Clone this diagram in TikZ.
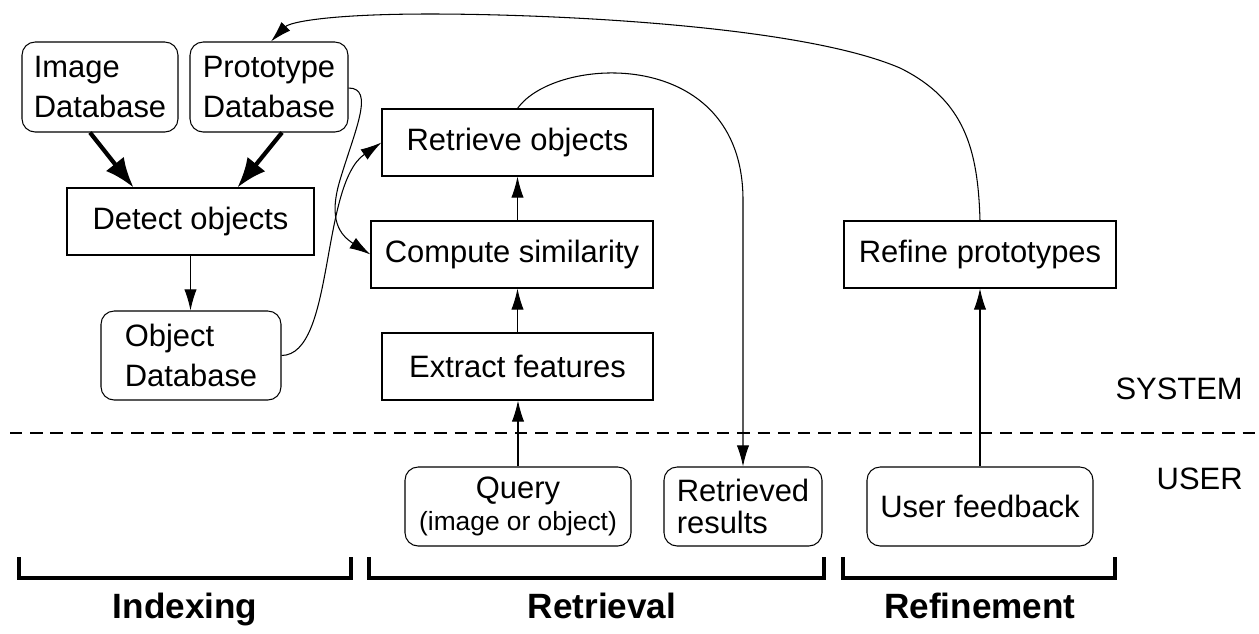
\documentclass[tikz,border=0pt]{standalone}
\usepackage{fontspec}
\setmainfont{Liberation Sans}
\usetikzlibrary{arrows.meta,calc}
\newlength\px \setlength\px{0.02cm}
\begin{document}
\begin{tikzpicture}[x=0.02cm,y=-0.02cm,
  every node/.style={font=\fontsize{17.6}{22.8}\selectfont, inner sep=0pt},
  box/.style={draw, line width=0.6pt, align=center},
  rbox/.style={box, rounded corners=7.5pt, align=left},
  tight/.style={font=\fontsize{17.6}{18.2}\selectfont},
  conn/.style={line width=0.6pt, -{Latex[length=12pt,width=7pt]}},
  heavy/.style={line width=2.4pt, -{Latex[length=17pt,width=13pt]}},
  bracket/.style={line width=2.6pt, line join=miter},
  phase/.style={font=\fontsize{20}{24}\selectfont\bfseries, anchor=base},
  sep/.style={line width=0.6pt, dash pattern=on 7pt off 4.5pt}]
\useasboundingbox (0,0) rectangle (1259,633);

% nodes
\node[rbox, minimum width=156\px, minimum height=90\px] (imgdb) at (100,87) {Image\\Database};
\node[rbox, minimum width=158\px, minimum height=90\px] (protodb) at (269,87) {Prototype\\Database};
\node[box, minimum width=247\px, minimum height=67\px] (detect) at (190.5,221.5) {Detect objects};
\node[rbox, minimum width=180\px, minimum height=89\px] (objdb) at (191,355.5) {Object\\Database};
\node[box, minimum width=271\px, minimum height=67\px] (retrieve) at (517.5,142.5) {Retrieve objects};
\node[box, minimum width=282\px, minimum height=67\px] (compute) at (512,254.5) {Compute similarity};
\node[box, minimum width=271\px, minimum height=67\px] (extract) at (517.5,366.5) {Extract features};
\node[rbox, tight, align=center, minimum width=226\px, minimum height=79\px] (query) at (518,506.5)
  {Query\\\fontsize{15}{18.2}\selectfont (image or object)};
\node[rbox, tight, minimum width=158\px, minimum height=79\px] (results) at (743,506.5)
  {Retrieved\\results};
\node[rbox, minimum width=226\px, minimum height=79\px] (feedback) at (980,506.5) {User feedback};
\node[box, minimum width=272\px, minimum height=67\px] (refine) at (980,254.5) {Refine prototypes};

\node[anchor=east] (system) at (1243,389) {SYSTEM};
\node[anchor=east] (user) at (1243,479) {USER};

% separator
\draw[sep] (10,433) -- (1259,433);

% brackets and phase labels
\draw[bracket] (19,557) |- (351,578) -- (351,557);
\draw[bracket] (369,557) |- (824,578) -- (824,557);
\draw[bracket] (843,557) |- (1115,578) -- (1115,557);
\node[phase] (lidx) at (185,618) {Indexing};
\node[phase] (lret) at (602,618) {Retrieval};
\node[phase] (lref) at (980,618) {Refinement};

% connectors
\draw[heavy] ($(imgdb.south)+(-10,0)$) -- ($(detect.north)+(-57,0)$);
\draw[heavy] ($(protodb.south)+(13,0)$) -- ($(detect.north)+(47,0)$);
\draw[conn] (detect.south) -- (detect.south |- objdb.north);
\draw[conn] (extract.north) -- (extract.north |- compute.south);
\draw[conn] (retrieve.south |- compute.north) -- (retrieve.south);
\draw[conn] (query.north) -- (query.north |- extract.south);
\draw[conn] (feedback.north) -- (refine.south);

\draw[conn] (objdb.east) .. controls (335,355) and (320,185) .. (retrieve.west);
\draw[conn] ($(protodb.east)+(0,1)$) .. controls (375,88) and (355,130) .. (340,180)
  .. controls (328,220) and (340,235) .. (compute.west);
\draw[conn] (retrieve.north) .. controls (555,55) and (743,45) .. (results.north |- 0,200) -- (results.north);
\draw[conn] (refine.north) .. controls (978,150) and (965,100) .. (900,68)
  .. controls (800,25) and (550,14) .. (430,14)
  .. controls (330,14) and (290,22) .. ($(protodb.north)+(2,0)$);
\end{tikzpicture}
\end{document}
